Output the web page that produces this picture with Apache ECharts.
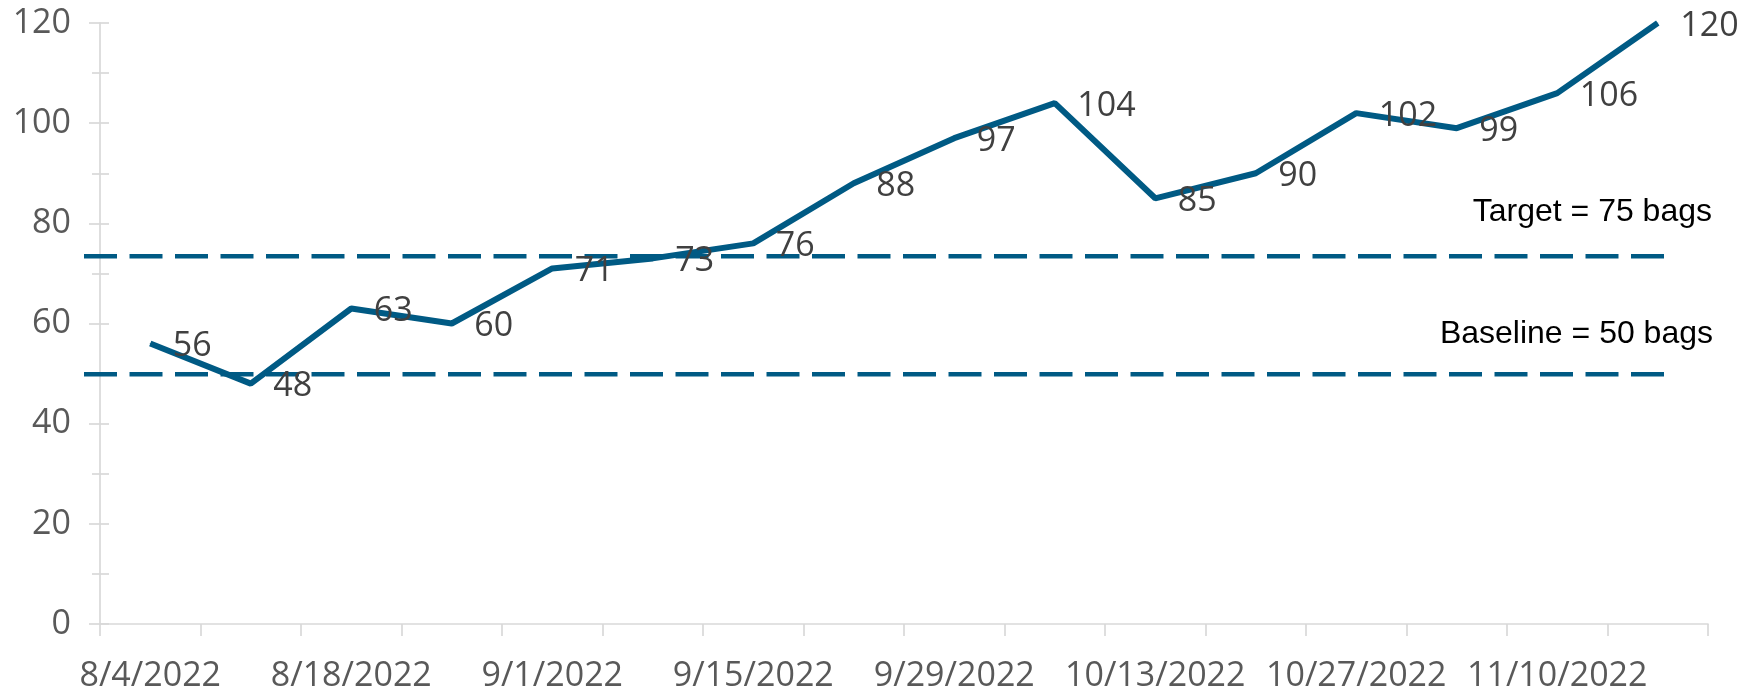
<!DOCTYPE html>
<html>
<head>
<meta charset="utf-8">
<script src="https://cdn.jsdelivr.net/npm/echarts@6/dist/echarts.min.js"></script>
<style>
html, body { margin: 0; padding: 0; background: #fff; }
#chart { width: 1760px; height: 693px; }
</style>
</head>
<body>
<div id="chart"></div>
<script>
const weeks = ['8/4/2022', '8/11/2022', '8/18/2022', '8/25/2022', '9/1/2022', '9/8/2022',
    '9/15/2022', '9/22/2022', '9/29/2022', '10/6/2022', '10/13/2022', '10/20/2022',
    '10/27/2022', '11/3/2022', '11/10/2022', '11/17/2022']
const bags = [56, 48, 63, 60, 71, 73, 76, 88, 97, 104, 85, 90, 102, 99, 106, 120]
// reference lines drawn across the plot (start, end)
const baselineLine = [50, 50]
const targetLine = [73.5, 73.5]
const baselineText = 'Baseline = 50 bags'
const targetText = 'Target = 75 bags'

const lineColor = '#005A84'
const axisGray = '#D9D9D9'

let myChart = echarts.init(document.getElementById('chart'))

let dashStyle = { color: lineColor, width: 4.5, type: [33, 12.5] }

let option = {
    animation: false,
    grid: [
        { left: 100, right: 52, top: 23, bottom: 68 },
        { left: 84, right: 87, top: 23, bottom: 68 }
    ],
    xAxis: [{
        type: 'category',
        data: weeks,
        gridIndex: 0,
        axisLine: { lineStyle: { color: axisGray, width: 1.7 } },
        axisTick: { show: true, interval: 0, length: 12, lineStyle: { color: axisGray, width: 1.7 } },
        axisLabel: {
            interval: 1,
            margin: 35,
            color: '#595959',
            fontSize: 34,
            fontFamily: 'Open Sans'
        }
    }, {
        type: 'value',
        gridIndex: 1,
        min: 0,
        max: 1,
        show: false
    }],
    yAxis: [{
        type: 'value',
        gridIndex: 0,
        min: 0,
        max: 120,
        interval: 20,
        axisLine: { show: true, lineStyle: { color: axisGray, width: 1.7 } },
        axisTick: { show: true, length: 11, lineStyle: { color: axisGray, width: 1.7 } },
        minorTick: { show: true, splitNumber: 2, length: 8, lineStyle: { color: axisGray, width: 1.7 } },
        splitLine: { show: false },
        axisLabel: {
            margin: 29,
            color: '#595959',
            fontSize: 34,
            fontFamily: 'Open Sans'
        }
    }, {
        type: 'value',
        gridIndex: 0,
        position: 'left',
        min: 0,
        max: 120,
        interval: 20,
        axisLine: { show: false },
        axisTick: { show: true, inside: true, length: 9, lineStyle: { color: axisGray, width: 1.7 } },
        minorTick: { show: true, splitNumber: 2, length: 9, lineStyle: { color: axisGray, width: 1.7 } },
        splitLine: { show: false },
        axisLabel: { show: false }
    }, {
        type: 'value',
        gridIndex: 1,
        min: 0,
        max: 120,
        show: false
    }],
    graphic: [
        {
            type: 'text', right: 48, top: 196,
            style: { text: targetText, fill: '#000', font: '32px "Liberation Sans"' }
        },
        {
            type: 'text', right: 47, top: 318,
            style: { text: baselineText, fill: '#000', font: '32px "Liberation Sans"' }
        }
    ],
    series: [
        {
            name: 'Baseline', type: 'line', xAxisIndex: 1, yAxisIndex: 2, z: 1,
            data: [[0, baselineLine[0]], [1, baselineLine[1]]],
            symbol: 'none', lineStyle: dashStyle, silent: true
        },
        {
            name: 'Target', type: 'line', xAxisIndex: 1, yAxisIndex: 2, z: 1,
            data: [[0, targetLine[0]], [1, targetLine[1]]],
            symbol: 'none', lineStyle: dashStyle, silent: true
        },
        {
            name: 'Bags', type: 'line', xAxisIndex: 0, yAxisIndex: 0, z: 3,
            data: bags,
            showAllSymbol: true,
            symbol: 'circle',
            symbolSize: 1,
            itemStyle: { color: lineColor },
            lineStyle: { color: lineColor, width: 6 },
            label: {
                show: true,
                position: 'right',
                distance: 22,
                offset: [0, 3],
                color: '#404040',
                fontSize: 34,
                fontFamily: 'Open Sans'
            }
        }
    ]
}
myChart.setOption(option)
window.addEventListener('resize', function() {
    myChart.resize()
})
</script>
</body>
</html>
